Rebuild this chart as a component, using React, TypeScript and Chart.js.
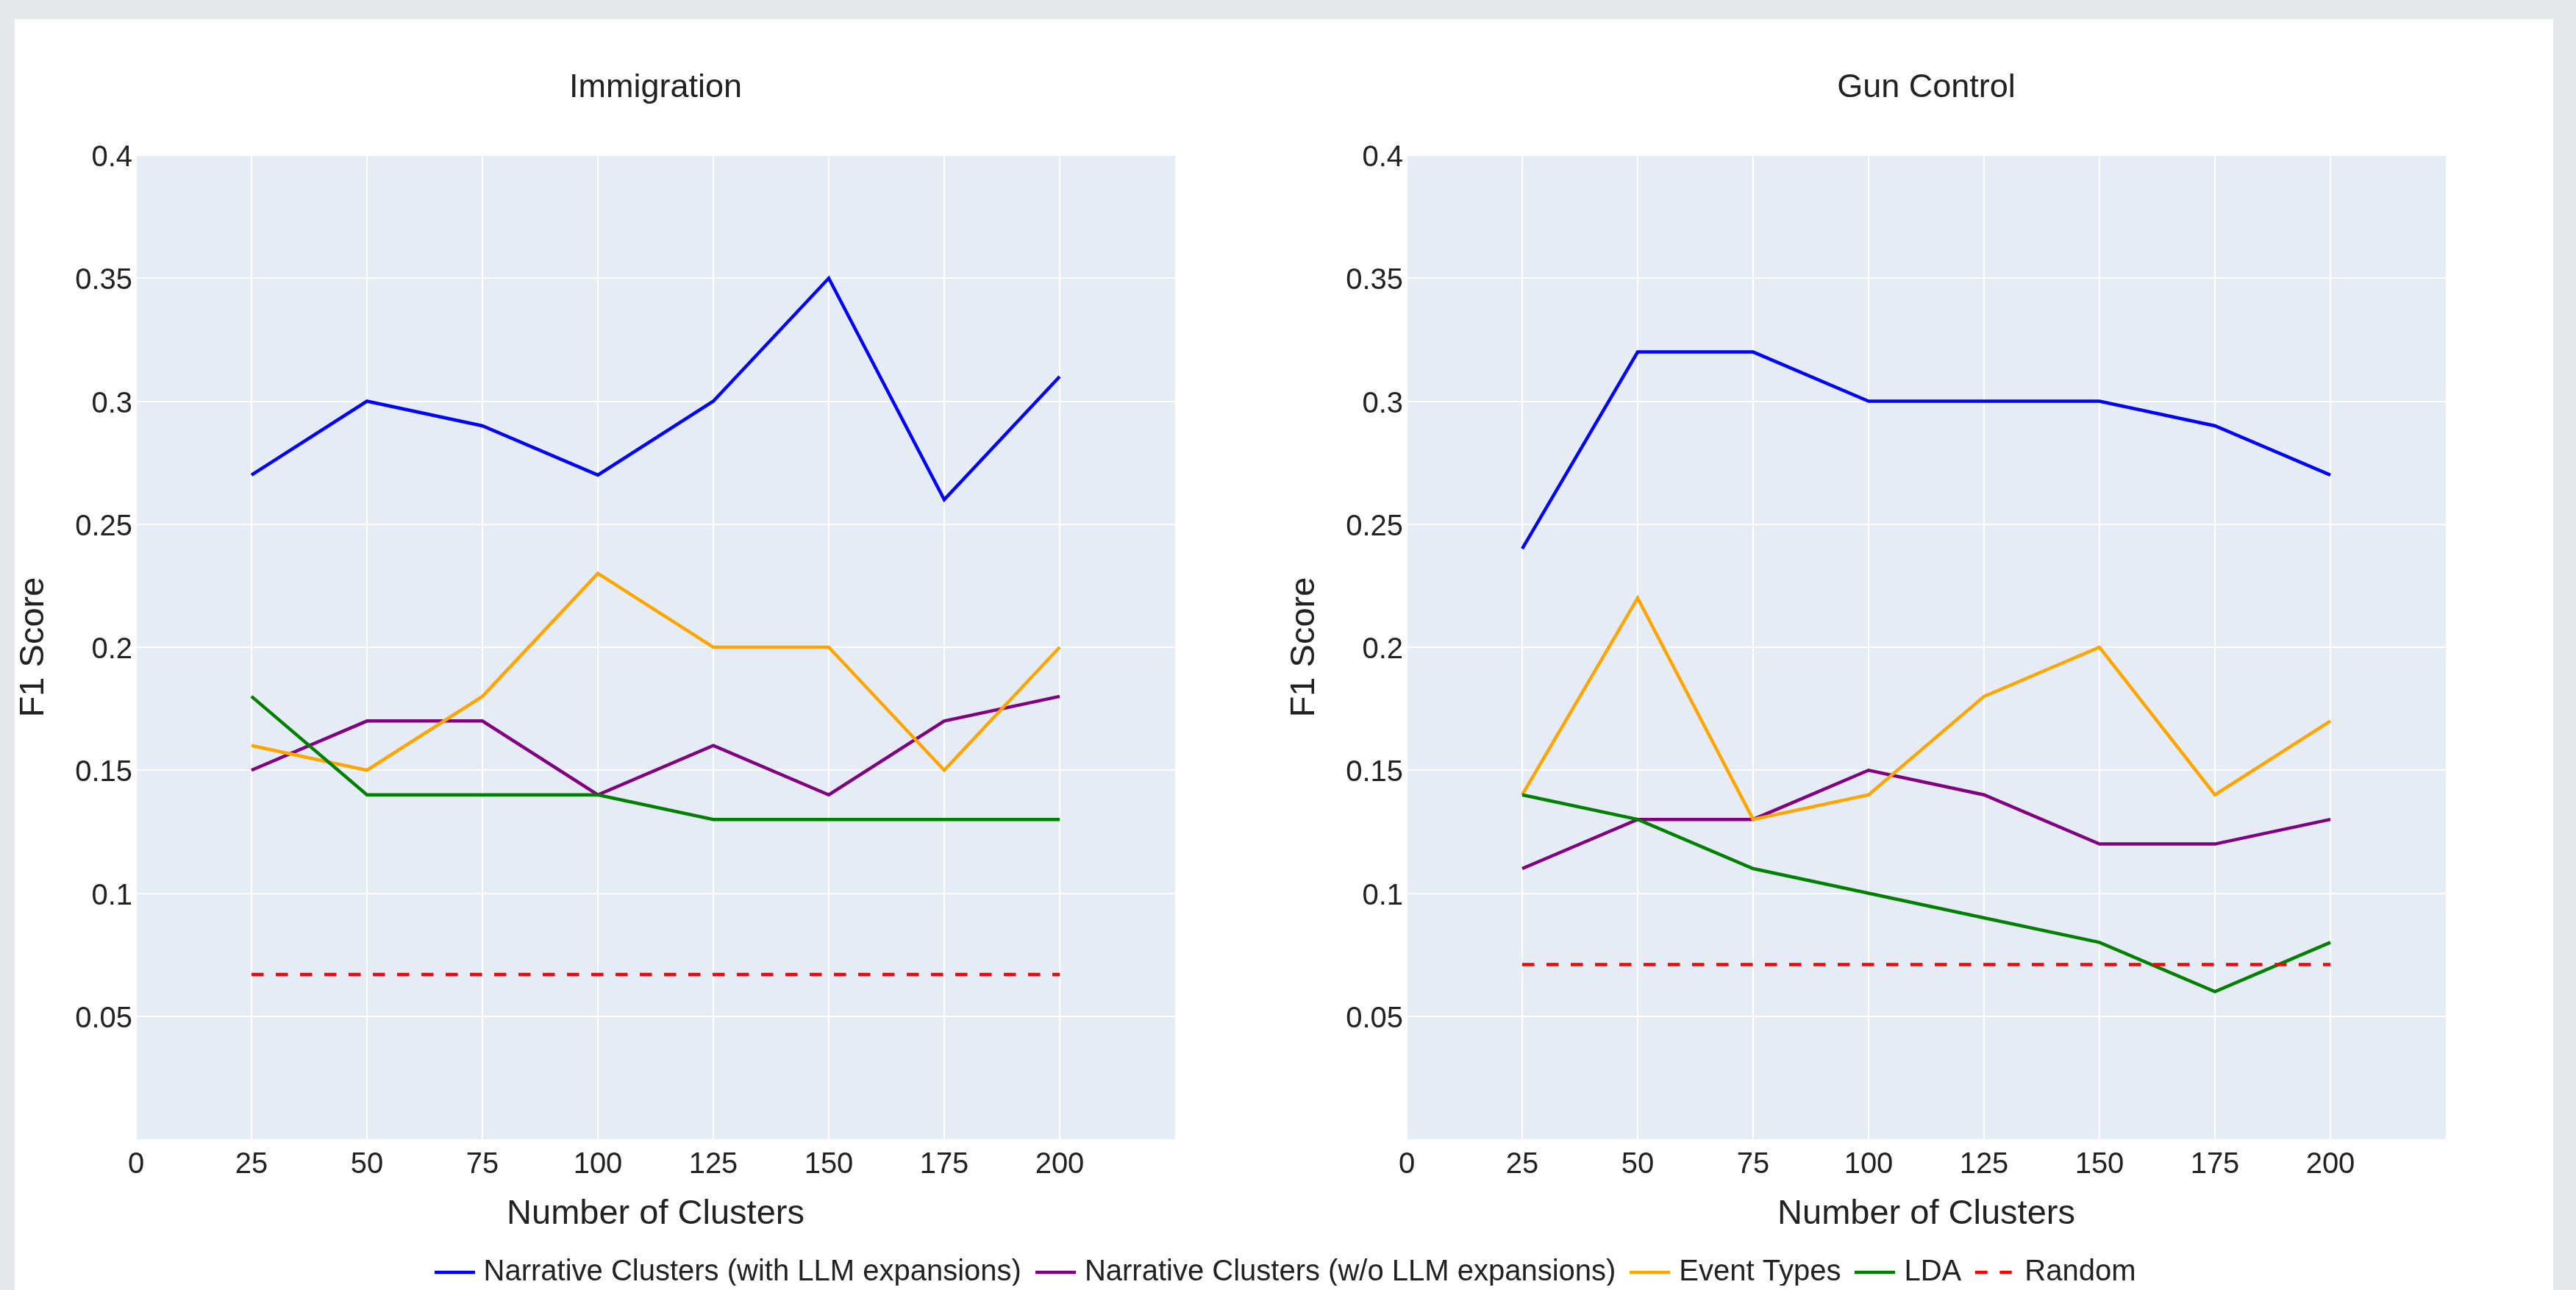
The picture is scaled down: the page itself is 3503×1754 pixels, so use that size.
import React, { useEffect, useRef } from "react";
import { Chart, registerables } from "chart.js";

Chart.register(...registerables);

// ---------------- data ----------------
const clusterCounts = [25, 50, 75, 100, 125, 150, 175, 200];

const xTickValues = [0, 25, 50, 75, 100, 125, 150, 175, 200];
const xTickLabels = ["0", "25", "50", "75", "100", "125", "150", "175", "200"];
const yTickValues = [0.05, 0.1, 0.15, 0.2, 0.25, 0.3, 0.35, 0.4];
const yTickLabels = ["0.05", "0.1", "0.15", "0.2", "0.25", "0.3", "0.35", "0.4"];

const seriesNames = [
  "Narrative Clusters (with LLM expansions)",
  "Narrative Clusters (w/o LLM expansions)",
  "Event Types",
  "LDA",
  "Random",
];
const seriesColors = ["#0000ff", "#800080", "#ffa500", "#008000", "#ff0000"];
const seriesDashed = [false, false, false, false, true];

const immigrationWithLLM = [0.27, 0.3, 0.29, 0.27, 0.3, 0.35, 0.26, 0.31];
const immigrationWithoutLLM = [0.15, 0.17, 0.17, 0.14, 0.16, 0.14, 0.17, 0.18];
const immigrationEventTypes = [0.16, 0.15, 0.18, 0.23, 0.2, 0.2, 0.15, 0.2];
const immigrationLDA = [0.18, 0.14, 0.14, 0.14, 0.13, 0.13, 0.13, 0.13];
const immigrationRandom = [0.067, 0.067, 0.067, 0.067, 0.067, 0.067, 0.067, 0.067];

const gunWithLLM = [0.24, 0.32, 0.32, 0.3, 0.3, 0.3, 0.29, 0.27];
const gunWithoutLLM = [0.11, 0.13, 0.13, 0.15, 0.14, 0.12, 0.12, 0.13];
const gunEventTypes = [0.14, 0.22, 0.13, 0.14, 0.18, 0.2, 0.14, 0.17];
const gunLDA = [0.14, 0.13, 0.11, 0.1, 0.09, 0.08, 0.06, 0.08];
const gunRandom = [0.071, 0.071, 0.071, 0.071, 0.071, 0.071, 0.071, 0.071];

const immigrationSeries = [
  immigrationWithLLM,
  immigrationWithoutLLM,
  immigrationEventTypes,
  immigrationLDA,
  immigrationRandom,
];
const gunSeries = [gunWithLLM, gunWithoutLLM, gunEventTypes, gunLDA, gunRandom];

// ---------------- styles ----------------
const FONT = "'Liberation Sans', Arial, Helvetica, sans-serif";
const TEXT = "#222222";
const PLOT_BG = "#E5ECF6";
const LINE_W = 4.5;
const DASH = [16.5, 16.5];

const CW = 1728;
const CH = 1700;

const plotBgPlugin = {
  id: "plotBg",
  beforeDraw(chart: any) {
    const { ctx, chartArea } = chart;
    if (!chartArea) return;
    ctx.save();
    ctx.fillStyle = PLOT_BG;
    ctx.fillRect(chartArea.left, chartArea.top, chartArea.right - chartArea.left, chartArea.bottom - chartArea.top);
    ctx.restore();
  },
};

function buildSubplot(canvas: HTMLCanvasElement, title: string, series: number[][]) {
  const datasets = series.map((vals, i) => ({
    label: seriesNames[i],
    data: clusterCounts.map((x, j) => ({ x, y: vals[j] })),
    borderColor: seriesColors[i],
    backgroundColor: seriesColors[i],
    borderWidth: LINE_W,
    borderDash: seriesDashed[i] ? DASH : [],
    pointRadius: 0,
    pointHoverRadius: 0,
    fill: false,
    tension: 0,
    order: -i,
  }));
  return new Chart(canvas, {
    type: "line",
    data: { datasets },
    plugins: [plotBgPlugin],
    options: {
      responsive: false,
      animation: false,
      devicePixelRatio: 1,
      layout: { padding: { top: 0, left: 0, right: CW - 1598, bottom: 0 } },
      scales: {
        x: {
          type: "linear",
          min: 0,
          max: 225,
          afterBuildTicks: (s: any) => {
            s.ticks = xTickValues.map((v) => ({ value: v }));
          },
          afterFit: (s: any) => {
            s.height = CH - 1549;
          },
          grid: { color: "#ffffff", lineWidth: 2, drawTicks: false },
          border: { display: false },
          ticks: {
            padding: 11,
            color: TEXT,
            font: { family: FONT, size: 40 },
            maxRotation: 0,
            autoSkip: false,
            callback: (_v: any, i: number) => xTickLabels[i],
          },
          title: {
            display: true,
            text: "Number of Clusters",
            color: TEXT,
            font: { family: FONT, size: 47 },
            padding: { top: 0, bottom: 21 },
          },
        },
        y: {
          type: "linear",
          min: 0,
          max: 0.4,
          afterBuildTicks: (s: any) => {
            s.ticks = yTickValues.map((v) => ({ value: v }));
          },
          afterFit: (s: any) => {
            s.width = 185;
          },
          grid: { color: "#ffffff", lineWidth: 2, drawTicks: false },
          border: { display: false },
          ticks: {
            padding: 5,
            labelOffset: 4,
            color: TEXT,
            font: { family: FONT, size: 40 },
            autoSkip: false,
            callback: (_v: any, i: number) => yTickLabels[i],
          },
          title: {
            display: true,
            text: "F1 Score",
            color: TEXT,
            font: { family: FONT, size: 47 },
            padding: { top: 18, bottom: 0 },
          },
        },
      },
      plugins: {
        legend: { display: false },
        tooltip: { enabled: false },
        title: {
          display: true,
          text: title,
          color: TEXT,
          fullSize: false,
          font: { family: FONT, size: 45, weight: "normal" },
          padding: { top: 93, bottom: 64 },
        },
      },
    } as any,
  });
}

// legend glyph: a 55px line sample (drawn as a small canvas), slightly wider than the layout box
function legendGlyph(color: string, dashed: boolean) {
  const c = document.createElement("canvas");
  c.width = 55;
  c.height = 10;
  const g = c.getContext("2d")!;
  g.strokeStyle = color;
  g.lineWidth = LINE_W;
  g.setLineDash(dashed ? DASH : []);
  g.beginPath();
  g.moveTo(0, 5);
  g.lineTo(55, 5);
  g.stroke();
  return c;
}

function buildLegend(canvas: HTMLCanvasElement) {
  const glyphs = seriesNames.map((_n, i) => legendGlyph(seriesColors[i], seriesDashed[i]));
  return new Chart(canvas, {
    type: "line",
    data: {
      datasets: seriesNames.map((n, i) => ({
        label: n,
        data: [],
        borderColor: seriesColors[i],
        borderWidth: LINE_W,
        borderDash: seriesDashed[i] ? DASH : [],
      })),
    },
    options: {
      responsive: false,
      animation: false,
      devicePixelRatio: 1,
      layout: { padding: 0 },
      scales: { x: { display: false }, y: { display: false } },
      plugins: {
        tooltip: { enabled: false },
        title: { display: false },
        legend: {
          display: true,
          position: "top",
          align: "center",
          labels: {
            usePointStyle: true,
            pointStyleWidth: 39,
            padding: 27,
            color: TEXT,
            font: { family: FONT, size: 40 },
            generateLabels: () =>
              seriesNames.map((n, i) => ({
                text: n,
                fillStyle: seriesColors[i],
                strokeStyle: seriesColors[i],
                lineWidth: LINE_W,
                lineDash: seriesDashed[i] ? DASH : [],
                pointStyle: glyphs[i],
                hidden: false,
                datasetIndex: i,
                fontColor: TEXT,
              })),
          },
        },
      },
    } as any,
  });
}

export default function App() {
  const c1 = useRef<HTMLCanvasElement | null>(null);
  const c2 = useRef<HTMLCanvasElement | null>(null);
  const c3 = useRef<HTMLCanvasElement | null>(null);

  useEffect(() => {
    document.body.style.margin = "0";
    document.body.style.overflow = "hidden";
    const a = buildSubplot(c1.current!, "Immigration", immigrationSeries);
    const b = buildSubplot(c2.current!, "Gun Control", gunSeries);
    const l = buildLegend(c3.current!);
    return () => {
      a.destroy();
      b.destroy();
      l.destroy();
    };
  }, []);

  return (
    <div
      style={{
        position: "absolute",
        left: 0,
        top: 0,
        width: 3503,
        height: 1754,
        overflow: "hidden",
        background: "#e5e7eb",
      }}
    >
      <div
        style={{
          position: "absolute",
          left: 20,
          top: 26,
          width: 3452,
          height: 1754 - 26,
          background: "#ffffff",
        }}
      />
      <canvas
        ref={c1}
        width={CW}
        height={CH}
        style={{ position: "absolute", left: 0, top: 0, width: CW, height: CH }}
      />
      <canvas
        ref={c2}
        width={CW}
        height={CH}
        style={{ position: "absolute", left: 1728, top: 0, width: CW, height: CH }}
      />
      <canvas
        ref={c3}
        width={3503}
        height={130}
        style={{ position: "absolute", left: 0, top: 1683, width: 3503, height: 130 }}
      />
    </div>
  );
}
